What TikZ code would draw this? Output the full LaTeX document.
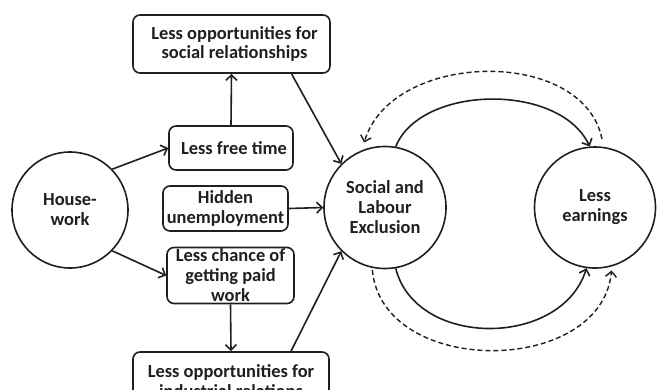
\documentclass[tikz,border=0pt]{standalone}
\usepackage{fontspec}
\setmainfont{Carlito}
\usetikzlibrary{arrows.meta,calc}
\begin{document}
\begin{tikzpicture}[x=1bp,y=-1bp,line width=1.6bp,color={black!88},
  lbl/.style={font=\bfseries\fontsize{18.5}{20}\selectfont,align=center},
  box/.style={lbl,draw,rounded corners=7bp,inner sep=0pt},
  circ/.style={lbl,draw,circle,inner sep=0pt},
  arr/.style={-{Straight Barb[length=5.5bp,width=11bp]}},
  dashline/.style={line width=1.4bp,dash pattern=on 5bp off 3bp}]
\useasboundingbox (0,0) rectangle (660,389);
% boxes
\node[box,minimum width=197bp,minimum height=58bp] (top) at (231.5,44) {\hspace*{6bp}Less opportunities for\\\hspace*{6bp}social relationships};
\node[box,minimum width=124bp,minimum height=44bp] (ft) at (231,148) {\hspace*{6bp}Less free time};
\node[box,minimum width=125bp,minimum height=45bp] (hid) at (225.5,208.5) {Hidden\\unemployment};
\node[box,minimum width=127bp,minimum height=56bp] (lc) at (230.5,275.5) {Less chance of\\getting paid\\work};
\node[box,minimum width=196bp,minimum height=58bp] (bot) at (231,381) {Less opportunities for\\industrial relations};
% circles
\node[circ,minimum size=116bp] (h) at (70,210) {House-\\work};
\node[circ,minimum size=122bp] (s) at (385,207.5) {Social and\\Labour\\Exclusion};
\node[circ,minimum size=121bp] (e) at (595,207.5) {Less\\earnings};
% left connectors
\draw[arr] (h.44) -- (ft.west);
\draw[arr] (h.-44) -- (lc.west);
\draw[arr] (ft.north) -- (top.south);
\draw[arr] (lc.south) -- (bot.north);
\draw[arr] (hid.east) -- (s.west);
\draw[arr] ([xshift=60bp]top.south) -- (s.135);
\draw[arr] ([xshift=60bp]bot.north) -- (s.-135);
% loops
\draw[arr] (s.80) .. controls +(25,-62) and +(-30,-64) .. (e.95);
\draw[arr] (s.-80) .. controls +(20,80) and +(-25,80) .. (e.-98);
\draw[arr,dashline,shorten <=8bp,shorten >=8bp] (e.82) .. controls +(-20,-100) and +(30,-100) .. (s.112);
\draw[arr,dashline,shorten <=2bp,shorten >=4bp] (s.-102) .. controls +(10,110) and +(-10,110) .. (e.-74);
\end{tikzpicture}
\end{document}
